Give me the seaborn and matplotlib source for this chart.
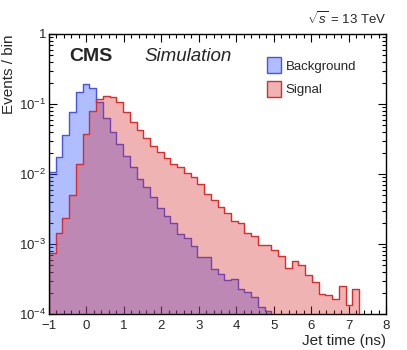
import matplotlib

matplotlib.use("Agg")
import matplotlib.pyplot as plt  # noqa: E402
import numpy as np  # noqa: E402
import pandas as pd  # noqa: E402
import seaborn as sns  # noqa: E402
from matplotlib.patches import Patch  # noqa: E402
from matplotlib.ticker import FixedLocator, MultipleLocator, NullFormatter  # noqa: E402

# binning: 50 bins between -1 and 8 ns
bin_lo, bin_hi, n_bins = -1.0, 8.0, 50

# events / bin, first bins only (rest are empty)
background = [
    0.0106, 0.0177, 0.036, 0.0776, 0.147, 0.191, 0.168, 0.108, 0.0624, 0.0394,
    0.0265, 0.018, 0.0127, 0.0085, 0.00645, 0.00467, 0.00332, 0.00251, 0.00202, 0.00138,
    0.00121, 0.00094, 0.00066, 0.00066, 0.00044, 0.00037, 0.00031, 0.00032, 0.000225, 0.000208,
    0.000177, 0.000127, 0.000111,
]
signal = [
    0.00074, 0.00142, 0.00238, 0.0050, 0.0137, 0.0375, 0.079, 0.116, 0.131, 0.127,
    0.106, 0.077, 0.056, 0.0425, 0.033, 0.0254, 0.0204, 0.0171, 0.0141, 0.0124,
    0.0102, 0.0090, 0.0071, 0.0051, 0.0042, 0.00334, 0.00274, 0.00211, 0.00202, 0.00142,
    0.0013, 0.00096, 0.00098, 0.00081, 0.00067, 0.00045, 0.00058, 0.00050, 0.00036, 0.00029,
    0.00019, 0.000185, 0.000164, 0.00025, 0.000133, 0.00023,
]

y_ticks = [1e-4, 1e-3, 1e-2, 1e-1, 1]
y_ticklabels = ["$10^{-4}$", "$10^{-3}$", "$10^{-2}$", "$10^{-1}$", "1"]

sns.set_style("ticks")
plt.rcParams["font.family"] = ["Liberation Sans", "DejaVu Sans"]
plt.rcParams["mathtext.fontset"] = "custom"
plt.rcParams["mathtext.rm"] = "Liberation Sans"
plt.rcParams["mathtext.it"] = "Liberation Sans:italic"
plt.rcParams["mathtext.bf"] = "Liberation Sans:bold"

edges = np.linspace(bin_lo, bin_hi, n_bins + 1)
centers = 0.5 * (edges[:-1] + edges[1:])

df_bkg = pd.DataFrame({"t": centers[: len(background)], "w": background})
df_sig = pd.DataFrame({"t": centers[: len(signal)], "w": signal})

bkg_fill = (59 / 255, 91 / 255, 1.0, 0.4)
bkg_line = "#4455ee"
sig_fill = (214 / 255, 39 / 255, 40 / 255, 0.35)
sig_line = "#dd2a2a"

fig = plt.figure(figsize=(4.07, 3.5), dpi=100)
ax = fig.add_axes([49 / 407, 36 / 350, 337 / 407, 280 / 350])

sns.histplot(
    data=df_bkg,
    x="t",
    weights="w",
    bins=list(edges),
    element="step",
    fill=True,
    facecolor=bkg_fill,
    edgecolor=bkg_line,
    linewidth=1.0,
    ax=ax,
)
sns.histplot(
    data=df_sig,
    x="t",
    weights="w",
    bins=list(edges),
    element="step",
    fill=True,
    facecolor=sig_fill,
    edgecolor=sig_line,
    linewidth=1.0,
    ax=ax,
)

ax.set_yscale("log")
ax.set_xlim(bin_lo, bin_hi)
ax.set_ylim(1e-4, 1)
ax.yaxis.set_major_locator(FixedLocator(y_ticks))
ax.set_yticklabels(y_ticklabels)
ax.yaxis.set_minor_formatter(NullFormatter())
ax.xaxis.set_major_locator(MultipleLocator(1))
ax.xaxis.set_minor_locator(MultipleLocator(0.2))

ax.tick_params(which="both", direction="in", top=True, right=True, labelsize=9.5,
               width=0.8, color="black")
ax.tick_params(which="major", length=6)
ax.tick_params(which="minor", length=3)
ax.tick_params(axis="x", pad=4)
ax.tick_params(axis="y", pad=2)
for s in ax.spines.values():
    s.set_linewidth(1.0)
    s.set_color("black")

ax.set_xlabel("Jet time (ns)", loc="right", fontsize=11, labelpad=2)
ax.set_ylabel("Events / bin", loc="top", fontsize=11, labelpad=2)

ax.text(0.059, 0.918, "CMS", transform=ax.transAxes, fontsize=14,
        fontweight="bold", va="center", ha="left")
ax.text(0.282, 0.918, "Simulation", transform=ax.transAxes, fontsize=13.5,
        fontstyle="italic", va="center", ha="left")
ax.text(1.0, 1.025, r"$\sqrt{s}$ = 13 TeV", transform=ax.transAxes, fontsize=9.5,
        va="bottom", ha="right")

handles = [
    Patch(facecolor=bkg_fill, edgecolor=bkg_line, label="Background"),
    Patch(facecolor=sig_fill, edgecolor=sig_line, label="Signal"),
]
ax.legend(handles=handles, loc="upper left", bbox_to_anchor=(0.62, 0.95),
          frameon=False, fontsize=9.5, handlelength=1.06, handleheight=1.5,
          labelspacing=0.55, handletextpad=0.35, borderpad=0.2)

fig.savefig("out.png", dpi=100)
